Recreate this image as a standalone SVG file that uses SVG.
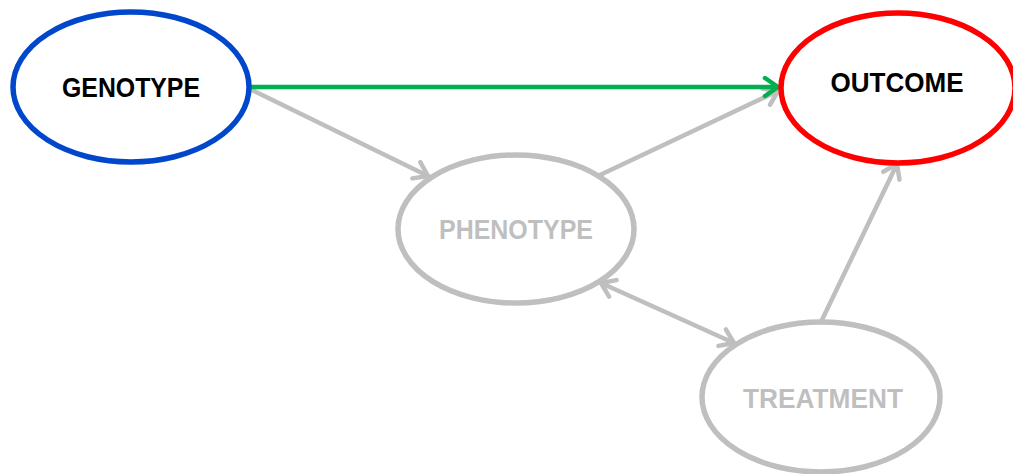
<svg xmlns="http://www.w3.org/2000/svg" width="1013" height="474" viewBox="0 0 1013 474">
  <style>
    .node { fill: #ffffff; stroke-width: 5.5; }
    .label { font-family: "Liberation Sans", Arial, sans-serif; font-weight: bold; font-size: 27px; text-anchor: middle; }
    .dark { fill: #000000; }
    .muted { fill: #bfbfbf; }
    .edge { fill: none; stroke-width: 4.5; stroke-linecap: round; }
    .grey { stroke: #bfbfbf; }
    .green { stroke: #00b050; }
  </style>
  <defs>
    <marker id="head-grey" markerUnits="userSpaceOnUse" markerWidth="30" markerHeight="30" refX="0" refY="0" viewBox="-20 -15 30 30" orient="auto-start-reverse" overflow="visible">
      <path d="M -13 -9 L 0 0 L -13 9" fill="none" stroke="#bfbfbf" stroke-width="4.5" stroke-linecap="round" stroke-linejoin="round"/>
    </marker>
    <marker id="head-green" markerUnits="userSpaceOnUse" markerWidth="30" markerHeight="30" refX="0" refY="0" viewBox="-20 -15 30 30" orient="auto" overflow="visible">
      <path d="M -13 -9 L 0 0 L -13 9" fill="none" stroke="#00b050" stroke-width="4.5" stroke-linecap="round" stroke-linejoin="round"/>
    </marker>
  </defs>

  <g id="connectors">
    <line class="edge grey" x1="250" y1="89" x2="428" y2="176" marker-end="url(#head-grey)"/>
    <line class="edge grey" x1="600" y1="175" x2="778" y2="91" marker-end="url(#head-grey)"/>
    <line class="edge grey" x1="821" y1="322" x2="897" y2="164" marker-end="url(#head-grey)"/>
    <line class="edge grey" x1="601" y1="283" x2="734" y2="343" marker-start="url(#head-grey)" marker-end="url(#head-grey)"/>
    <line class="edge green" x1="249" y1="87" x2="778" y2="87" stroke-linecap="butt" marker-end="url(#head-green)"/>
  </g>

  <g id="genotype">
    <ellipse class="node" cx="131" cy="87" rx="118" ry="75" stroke="#0047cc"/>
    <text class="label dark" x="131" y="97" textLength="138" lengthAdjust="spacingAndGlyphs">GENOTYPE</text>
  </g>

  <g id="outcome">
    <ellipse class="node" cx="898" cy="88" rx="117" ry="75" stroke="#ff0000"/>
    <text class="label dark" x="897" y="92" textLength="133" lengthAdjust="spacingAndGlyphs">OUTCOME</text>
  </g>

  <g id="phenotype">
    <ellipse class="node" cx="516" cy="229" rx="118" ry="74" stroke="#bfbfbf"/>
    <text class="label muted" x="516" y="239" textLength="154" lengthAdjust="spacingAndGlyphs">PHENOTYPE</text>
  </g>

  <g id="treatment">
    <ellipse class="node" cx="821" cy="397" rx="119" ry="75" stroke="#bfbfbf"/>
    <text class="label muted" x="823" y="408" textLength="160" lengthAdjust="spacingAndGlyphs">TREATMENT</text>
  </g>
</svg>
